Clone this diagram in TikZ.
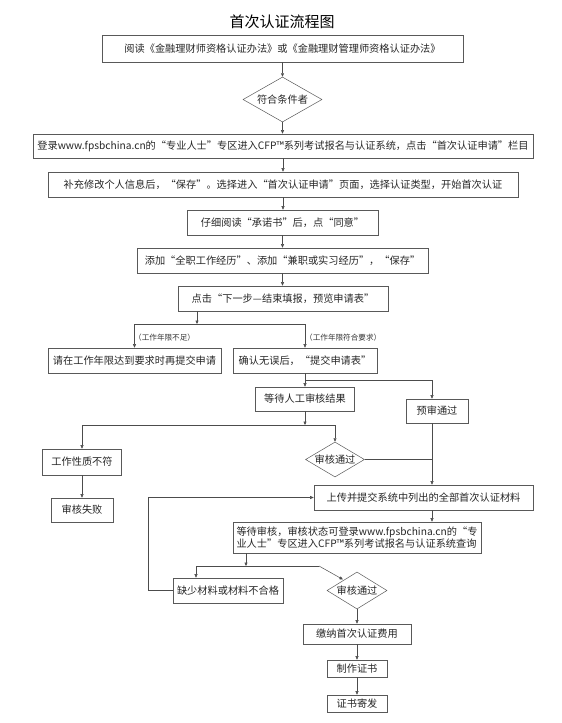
\documentclass[tikz,border=0pt]{standalone}
\usepackage{fontspec}
\setmainfont{Noto Sans CJK SC}
\usetikzlibrary{arrows.meta,shapes.geometric}
\tikzset{>={Triangle[length=3.5pt,width=3pt]}}
\tikzset{
  box/.style={draw=black!65,line width=.6pt,inner sep=1pt,text=black!85,
    font=\fontsize{10.2}{13}\selectfont},
  dia/.style={diamond,draw=black!65,line width=.5pt,inner sep=0pt,text=black!85,
    font=\fontsize{10.2}{12}\selectfont},
  link/.style={draw=black!70,line width=.5pt},
  note/.style={anchor=west,inner sep=0pt,text=black!80,font=\fontsize{7.6}{9}\selectfont}
}

\begin{document}
\begin{tikzpicture}[x=1pt,y=-1pt]
\useasboundingbox (0,0) rectangle (562,723);
\node[font=\fontsize{15}{18}\selectfont] (title) at (282,22) {首次认证流程图};
% main column
\node[box,minimum width=361pt,minimum height=27pt] (read) at (282.5,48.5) {阅读《金融理财师资格认证办法》或《金融理财管理师资格认证办法》};
\node[dia,minimum width=79pt,minimum height=45pt,aspect=1.75] (cond) at (282.5,99.5) {符合条件者};
\node[box,minimum width=500pt,minimum height=24pt] (login) at (283,146) {登录www.fpsbchina.cn的“专业人士”专区进入CFP™系列考试报名与认证系统，点击“首次认证申请”栏目};
\node[box,minimum width=470pt,minimum height=25pt] (fill) at (283,184.5) {补充修改个人信息后，“保存”。选择进入“首次认证申请”页面，选择认证类型，开始首次认证};
\node[box,minimum width=191pt,minimum height=25pt] (promise) at (282.5,222.5) {仔细阅读“承诺书”后，点“同意”};
\node[box,minimum width=291pt,minimum height=25pt] (exp) at (282.5,260.5) {添加“全职工作经历”、添加“兼职或实习经历”，“保存”};
\node[box,minimum width=210pt,minimum height=25pt] (next) at (283,298.5) {点击“下一步—结束填报，预览申请表”};
% first branch
\node[box,minimum width=173pt,minimum height=25pt] (later) at (134.5,360.5) {请在工作年限达到要求时再提交申请};
\node[box,minimum width=144pt,minimum height=25pt] (confirm) at (305,360.5) {确认无误后，“提交申请表”};
\node[note] (short) at (134,338) {（工作年限不足）};
\node[note] (enough) at (305,338) {（工作年限符合要求）};
% review
\node[box,minimum width=99pt,minimum height=24pt] (manual) at (305,399) {等待人工审核结果};
\node[box,minimum width=62pt,minimum height=24pt] (pre) at (437,411) {预审通过};
\node[box,minimum width=79pt,minimum height=26pt] (nature) at (82,462) {工作性质不符};
\node[box,minimum width=62pt,minimum height=24pt] (fail) at (82,510) {审核失败};
\node[dia,minimum width=59pt,minimum height=35pt,aspect=1.7] (pass) at (335,459.5) {审核通过};
\node[box,minimum width=219pt,minimum height=25pt] (upload) at (423.5,497.5) {上传并提交系统中列出的全部首次认证材料};
\node[box,minimum width=248pt,minimum height=31pt,align=left,font=\fontsize{10.2}{12.5}\selectfont] (review) at (357,537.5) {等待审核，审核状态可登录www.fpsbchina.cn的“专\\业人士”专区进入CFP™系列考试报名与认证系统查询};
\node[box,minimum width=110pt,minimum height=25pt] (lack) at (228,590.5) {缺少材料或材料不合格};
\node[dia,minimum width=60pt,minimum height=37pt,aspect=1.7] (pass2) at (357,590.5) {审核通过};
\node[box,minimum width=108pt,minimum height=20pt] (fee) at (357,634) {缴纳首次认证费用};
\node[box,minimum width=60pt,minimum height=17pt] (make) at (357,668.5) {制作证书};
\node[box,minimum width=60pt,minimum height=17pt] (mail) at (357,703.5) {证书寄发};

% junctions
\coordinate (j1) at (197,324);
\coordinate (j2) at (305,380);
\coordinate (j2r) at (432,380);
\coordinate (j3) at (305,425);
\coordinate (j4) at (246,566);
\coordinate (j4l) at (196,566);
\coordinate (j4r) at (319,566);
\coordinate (p2in) at (343,579.5);
\coordinate (back) at (148,497.5);

\foreach \a/\b in {read/cond,cond/login,login/fill,fill/promise,promise/exp,exp/next}
  \draw[link,->] (\a.south) -- (\a.south |- \b.north);
\draw[link,->] (next.south -| j1) -- (j1);
\draw[link] (j1 -| later) -- (j1 -| confirm);
\draw[link,->] (j1 -| later) -- (later.north);
\draw[link,->] (j1 -| confirm) -- (confirm.north);
\draw[link] (confirm.south) -- (j2) -- (j2r);
\draw[link,->] (j2) -- (manual.north);
\draw[link,->] (j2r) -- (j2r |- pre.north);
\draw[link,->] (manual.south) -- (j3);
\draw[link] (j3 -| nature) -- (j3 -| pass);
\draw[link,->] (j3 -| nature) -- (nature.north);
\draw[link,->] (j3 -| pass) -- (pass.north);
\draw[link,->] (nature) -- (fail);
\draw[link] (pass.east) -- (pass.east -| j2r);
\draw[link,->] (pre.south -| j2r) -- (upload.north -| j2r);
\draw[link,->] (upload.south -| j2r) -- (review.north -| j2r);
\draw[link,->] (review.south -| j4) -- (j4);
\draw[link] (j4l) -- (j4r);
\draw[link,->] (j4l) -- (j4l |- lack.north);
\draw[link,->] (j4r) -- (p2in);
\draw[link,->] (lack.west) -- (lack.west -| back) -- (back) -- (upload.west);
\foreach \a/\b in {pass2/fee,fee/make,make/mail}
  \draw[link,->] (\a.south) -- (\b.north);
\end{tikzpicture}
\end{document}
